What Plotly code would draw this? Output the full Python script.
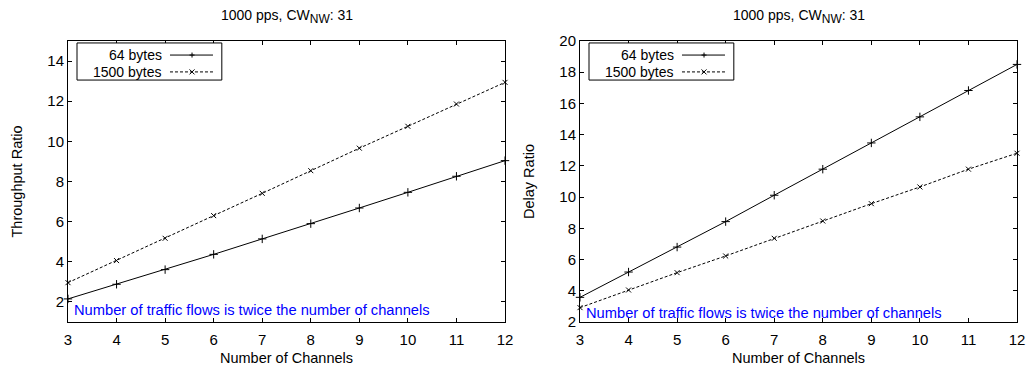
import plotly.graph_objects as go

channels = [3, 4, 5, 6, 7, 8, 9, 10, 11, 12]
throughput_64 = [2.15, 2.88, 3.61, 4.37, 5.14, 5.90, 6.68, 7.46, 8.26, 9.04]
throughput_1500 = [2.96, 4.06, 5.17, 6.30, 7.41, 8.54, 9.66, 10.75, 11.86, 12.94]
delay_64 = [3.58, 5.20, 6.80, 8.43, 10.12, 11.79, 13.47, 15.14, 16.83, 18.50]
delay_1500 = [2.92, 4.05, 5.16, 6.23, 7.36, 8.47, 9.58, 10.65, 11.79, 12.81]
series_names = ["64 bytes", "1500 bytes"]
subtitle = "1000 pps, CW<sub><span style='font-size:12px'>NW</span></sub>: 31"
note = "Number of traffic flows is twice the number of channels"

W, H = 1031, 370
FONT = "Liberation Sans, Arial, sans-serif"

fig = go.Figure()

def add_series(xa, ya, y64, y1500):
    fig.add_trace(go.Scatter(
        x=channels, y=y64, xaxis=xa, yaxis=ya, mode="lines+markers",
        line=dict(color="black", width=1),
        marker=dict(symbol="cross-thin", size=6, line=dict(color="black", width=1)),
        cliponaxis=False, showlegend=False, name=series_names[0]))
    fig.add_trace(go.Scatter(
        x=channels, y=y1500, xaxis=xa, yaxis=ya, mode="lines+markers",
        line=dict(color="black", width=1, dash="3px,2px"),
        marker=dict(symbol="x-thin", size=5, line=dict(color="black", width=1)),
        cliponaxis=False, showlegend=False, name=series_names[1]))

add_series("x", "y", throughput_64, throughput_1500)
add_series("x2", "y2", delay_64, delay_1500)

ydom = [(H - 322) / H, (H - 41) / H]
axis_common = dict(showline=True, linecolor="black", linewidth=1, mirror="ticks",
                   ticks="inside", ticklen=4, tickcolor="black", tickwidth=1,
                   showgrid=False, zeroline=False, automargin=False,
                   tickfont=dict(family=FONT, size=15, color="black"))
x_extra = dict(ticklabelstandoff=4)

fig.update_layout(
    template="none",
    width=W, height=H, margin=dict(l=0, r=0, t=0, b=0, autoexpand=False),
    plot_bgcolor="white", paper_bgcolor="white",
    font=dict(family=FONT, color="black"),
    xaxis=dict(domain=[68 / W, 505 / W], range=[3, 12], dtick=1, anchor="y",
               title=dict(text="Number of Channels", font=dict(size=14.5), standoff=5),
               **axis_common, **x_extra),
    yaxis=dict(domain=ydom, range=[1, 15], tick0=2, dtick=2, anchor="x",
               title=dict(text="Throughput Ratio", font=dict(size=14.5), standoff=21),
               **axis_common),
    xaxis2=dict(domain=[580 / W, 1017 / W], range=[3, 12], dtick=1, anchor="y2",
                title=dict(text="Number of Channels", font=dict(size=14.5), standoff=5),
                **axis_common, **x_extra),
    yaxis2=dict(domain=ydom, range=[2, 20], tick0=2, dtick=2, anchor="x2",
                title=dict(text="Delay Ratio", font=dict(size=14.5), standoff=21),
                **axis_common),
)

shapes = []
annotations = []
note_y = [0.042, 0.032]
for k, (xa, ya) in enumerate([("x", "y"), ("x2", "y2")]):
    xr, yr = xa + " domain", ya + " domain"
    annotations.append(dict(text=subtitle, xref=xr, yref="paper", x=0.5, y=1 - 17 / H,
                            xanchor="center", yanchor="middle", showarrow=False,
                            font=dict(size=14, family=FONT, color="black")))
    annotations.append(dict(text=note, xref=xr, yref=yr, x=4 / 437, y=note_y[k],
                            xanchor="left", yanchor="middle", showarrow=False,
                            font=dict(size=14.7, family=FONT, color="#0000ff")))
    shapes.append(dict(type="rect", xref=xr, yref=yr, x0=0.0206, x1=0.352, y0=0.861, y1=0.993,
                       line=dict(color="black", width=1), fillcolor="white", layer="above"))
    rows = [0.950, 0.890]
    dashes = ["solid", "3px,2px"]
    for i, name in enumerate(series_names):
        annotations.append(dict(text=name, xref=xr, yref=yr, x=0.2197, y=rows[i],
                                xanchor="right", yanchor="middle", showarrow=False,
                                font=dict(size=14, family=FONT, color="black")))
        shapes.append(dict(type="line", xref=xr, yref=yr, x0=0.2334, x1=0.3318,
                           y0=rows[i], y1=rows[i], line=dict(color="black", width=1, dash=dashes[i]),
                           layer="above"))
        if i == 0:
            path = "M-2.5,0 L2.5,0 M0,-2.5 L0,2.5"
        else:
            path = "M-2.5,-2.5 L2.5,2.5 M-2.5,2.5 L2.5,-2.5"
        shapes.append(dict(type="path", xref=xr, yref=yr, xsizemode="pixel", ysizemode="pixel",
                           xanchor=0.2838, yanchor=rows[i], path=path,
                           line=dict(color="black", width=1), layer="above"))

fig.update_layout(shapes=shapes, annotations=annotations)
fig.write_html("out.html")
